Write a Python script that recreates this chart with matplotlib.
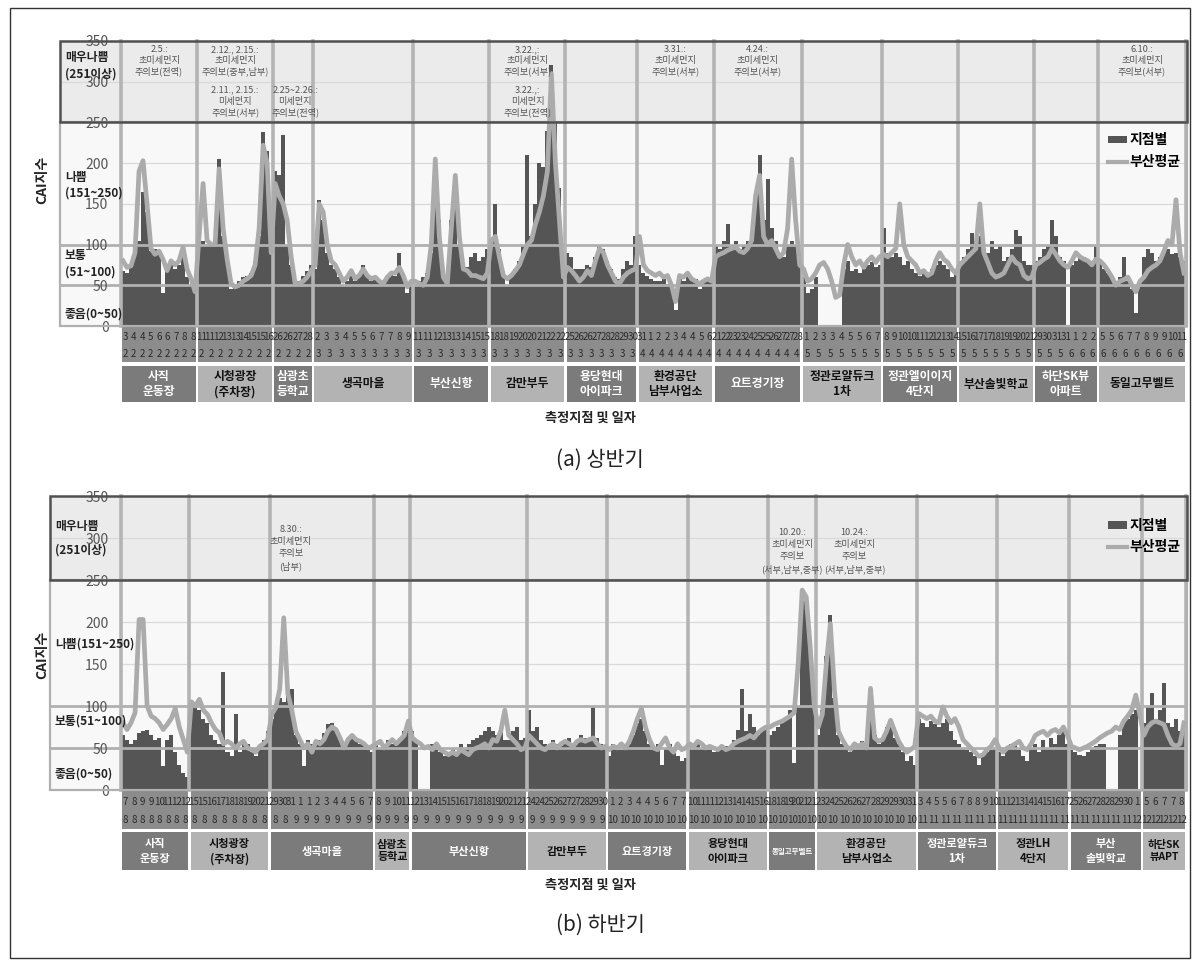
import numpy as np
import matplotlib.pyplot as plt
from matplotlib.patches import Rectangle, Patch
from matplotlib.lines import Line2D

plt.rcParams['font.family'] = ['Noto Sans CJK KR', 'DejaVu Sans']

W, H = 1200, 967
DARK = '#555555'
AVG = '#ababab'
SEP = '#b4b4b4'
NUM = ['Liberation Sans Narrow', 'Noto Sans CJK KR', 'DejaVu Sans']

# ---------------- (a) 상반기 ----------------
a_names = ['사직\n운동장', '시청광장\n(주차장)', '삼광초\n등학교', '생곡마을', '부산신항', '감만부두',
           '용당현대\n아이파크', '환경공단\n남부사업소', '요트경기장', '정관로얄듀크\n1차',
           '정관엘이이지\n4단지', '부산솔빛학교', '하단SK뷰\n아파트', '동일고무벨트']
a_day = [['3', '4', '4', '5', '6', '6', '7', '8', '8'],
         ['11', '11', '12', '13', '13', '14', '15', '15', '16'],
         ['26', '26', '27', '28'],
         ['2', '3', '3', '4', '5', '5', '6', '7', '7', '8', '9'],
         ['11', '11', '12', '13', '13', '14', '15', '15'],
         ['18', '18', '19', '20', '20', '21', '22', '22'],
         ['25', '26', '26', '27', '28', '28', '29', '30'],
         ['31', '1', '2', '2', '3', '4', '4', '5', '6'],
         ['21', '22', '23', '23', '24', '25', '25', '26', '27', '27', '28'],
         ['1', '2', '3', '3', '4', '5', '5', '6', '7'],
         ['8', '9', '10', '10', '11', '12', '12', '13', '14'],
         ['15', '16', '17', '17', '18', '19', '19', '20', '21'],
         ['29', '30', '31', '31', '1', '2', '2'],
         ['5', '5', '6', '7', '7', '8', '9', '9', '10', '11']]
a_month = [['2'] * 9, ['2'] * 8, ['2'] * 4, ['3'] * 9, ['3'] * 7, ['3'] * 7, ['3'] * 7,
           ['4'] * 8, ['4'] * 9, ['5'] * 7, ['5'] * 7, ['5'] * 7,
           ['5', '5', '5', '6', '6', '6'], ['6'] * 8]
# 지점별 CAI
a_bar = [[68, 65, 72, 95, 105, 165, 140, 92, 95, 88, 40, 72, 75, 70, 75, 92, 60, 50, 40],
         [100, 105, 100, 100, 100, 205, 110, 80, 45, 48, 55, 60, 62, 65, 80, 110, 238, 215, 100],
         [190, 185, 235, 100, 75, 50, 55, 62, 68, 75],
         [70, 155, 130, 90, 75, 70, 60, 50, 55, 62, 55, 60, 75, 62, 55, 58, 55, 52, 62, 65, 62, 90, 60, 40, 50],
         [50, 55, 60, 65, 90, 200, 130, 60, 60, 130, 180, 100, 75, 72, 85, 90, 80, 85, 95],
         [100, 150, 95, 65, 50, 60, 70, 80, 100, 210, 110, 150, 200, 195, 240, 320, 250, 170, 80],
         [90, 85, 70, 70, 70, 75, 72, 85, 100, 95, 80, 70, 60, 58, 70, 80, 75, 110],
         [75, 65, 62, 58, 55, 55, 58, 52, 45, 20, 60, 55, 62, 55, 58, 45, 55, 55, 55],
         [100, 95, 105, 125, 100, 105, 95, 100, 105, 110, 160, 210, 130, 180, 120, 105, 90, 85, 100, 105, 100, 80],
         [60, 40, 45, 60, 0, 0, 0, 0, 0, 0, 70, 80, 68, 70, 65, 70, 75, 78, 72, 75],
         [120, 90, 85, 90, 85, 75, 80, 70, 65, 62, 68, 60, 70, 75, 80, 75, 70, 60, 65],
         [80, 85, 95, 114, 105, 110, 95, 90, 105, 95, 100, 80, 85, 95, 118, 110, 80, 75, 75],
         [80, 85, 95, 100, 130, 110, 85, 80, 0, 75, 80, 85, 85, 80, 75, 100],
         [80, 70, 65, 60, 55, 60, 85, 55, 45, 16, 55, 85, 95, 90, 80, 85, 90, 95, 88, 90, 85, 80]]
# 부산평균 CAI
a_line = [[80, 72, 74, 90, 190, 203, 150, 95, 88, 92, 82, 68, 80, 75, 80, 97, 70, 58, 42],
          [110, 175, 105, 100, 100, 193, 120, 82, 52, 48, 50, 55, 58, 62, 75, 120, 222, 200, 90],
          [175, 160, 150, 130, 85, 52, 52, 55, 60, 68],
          [75, 150, 140, 100, 80, 75, 65, 55, 60, 68, 58, 62, 70, 62, 58, 60, 55, 52, 60, 65, 65, 72, 62, 48, 55],
          [55, 52, 50, 60, 100, 205, 110, 60, 52, 120, 185, 110, 70, 68, 62, 62, 60, 58, 65],
          [105, 110, 85, 62, 58, 62, 68, 75, 88, 100, 105, 125, 140, 160, 190, 310, 200, 130, 60],
          [72, 68, 62, 55, 60, 68, 62, 80, 95, 90, 75, 65, 55, 52, 60, 65, 68, 70],
          [110, 75, 68, 65, 62, 65, 60, 62, 50, 30, 62, 60, 65, 58, 55, 52, 55, 58, 55],
          [85, 88, 90, 93, 95, 97, 92, 90, 95, 105, 160, 185, 110, 100, 105, 95, 85, 90, 120, 205, 130, 75],
          [70, 55, 58, 65, 75, 78, 70, 55, 35, 38, 75, 100, 85, 75, 80, 72, 80, 85, 78, 85],
          [88, 85, 90, 95, 150, 100, 85, 80, 75, 65, 68, 62, 65, 80, 90, 82, 78, 70, 65],
          [75, 80, 85, 90, 95, 150, 90, 78, 65, 60, 62, 65, 75, 85, 78, 75, 62, 58, 60],
          [75, 78, 82, 85, 95, 88, 80, 75, 72, 80, 90, 85, 82, 80, 75, 82],
          [80, 75, 68, 60, 50, 55, 57, 60, 50, 42, 55, 60, 68, 72, 75, 80, 92, 105, 100, 155, 90, 65]]
a_notes = [(0, 0.5, 345, '2.5.:\n초미세먼지\n주의보(전역)'),
           (1, 0.5, 345, '2.12., 2.15.:\n초미세먼지\n주의보(중부,남부)'),
           (1, 0.5, 295, '2.11., 2.15.:\n미세먼지\n주의보(서부)'),
           (2, 0.55, 295, '2.25~2.26.:\n미세먼지\n주의보(전역)'),
           (5, 0.5, 345, '3.22.,:\n초미세먼지\n주의보(서부)'),
           (5, 0.5, 295, '3.22.,:\n미세먼지\n주의보(전역)'),
           (7, 0.5, 345, '3.31.:\n초미세먼지\n주의보(서부)'),
           (8, 0.5, 345, '4.24.:\n초미세먼지\n주의보(서부)'),
           (13, 0.5, 345, '6.10.:\n초미세먼지\n주의보(서부)')]

# ---------------- (b) 하반기 ----------------
b_names = ['사직\n운동장', '시청광장\n(주차장)', '생곡마을', '삼광초\n등학교', '부산신항', '감만부두',
           '요트경기장', '용당현대\n아이파크', '동일고무벨트', '환경공단\n남부사업소', '정관로얄듀크\n1차',
           '정관LH\n4단지', '부산\n솔빛학교', '하단SK\n뷰APT']
b_day = [['7', '8', '9', '9', '10', '11', '12', '12'],
         ['15', '15', '16', '17', '18', '18', '19', '20', '21'],
         ['29', '30', '31', '1', '1', '2', '3', '4', '4', '5', '6', '7'],
         ['8', '9', '10', '11'],
         ['12', '13', '14', '15', '15', '16', '17', '18', '18', '19', '20', '21', '21'],
         ['24', '24', '25', '26', '27', '27', '28', '29', '30'],
         ['1', '2', '3', '4', '4', '5', '6', '7', '7'],
         ['10', '11', '11', '12', '13', '14', '14', '15', '16'],
         ['18', '18', '19', '20', '21', '21'],
         ['23', '24', '25', '26', '26', '27', '28', '29', '29', '30', '31'],
         ['3', '4', '5', '5', '6', '7', '8', '8', '9', '10'],
         ['11', '12', '13', '14', '14', '15', '16', '17'],
         ['25', '26', '27', '28', '28', '29', '30', '1'],
         ['5', '6', '7', '7', '8']]
b_month = [['8'] * 8, ['8'] * 8, ['8', '8', '9', '9', '9', '9', '9', '9', '9', '9'], ['9'] * 4,
           ['9'] * 11, ['9'] * 8, ['10'] * 7, ['10'] * 7, ['10'] * 5, ['10'] * 9,
           ['11'] * 7, ['11'] * 7, ['11', '11', '11', '11', '11', '11', '12'], ['12'] * 5]
b_bar = [[65, 60, 55, 60, 68, 70, 72, 65, 60, 62, 28, 60, 65, 45, 30, 20, 15],
         [95, 100, 95, 85, 80, 65, 60, 55, 140, 45, 40, 90, 45, 55, 55, 45, 40, 50, 60, 70],
         [85, 100, 110, 105, 115, 120, 65, 55, 28, 60, 55, 55, 60, 68, 78, 80, 70, 60, 55, 62, 62, 58, 55, 55, 48, 45],
         [55, 50, 55, 60, 55, 55, 62, 70, 75],
         [70, 60, 0, 0, 0, 55, 50, 45, 40, 45, 50, 45, 55, 50, 55, 60, 62, 65, 70, 75, 70, 65, 72, 60, 60, 70, 75, 60, 62],
         [95, 70, 75, 60, 55, 50, 60, 55, 52, 55, 62, 55, 60, 65, 62, 60, 100, 62, 55, 50],
         [40, 55, 50, 48, 52, 55, 65, 80, 85, 70, 55, 50, 55, 30, 50, 55, 50, 40, 35, 38],
         [55, 52, 55, 50, 48, 50, 45, 48, 50, 52, 50, 60, 72, 120, 70, 90, 75, 65, 70, 75],
         [65, 70, 75, 80, 85, 95, 32, 100, 230, 225, 180, 105],
         [65, 95, 160, 208, 110, 65, 55, 50, 45, 50, 55, 58, 55, 85, 65, 55, 62, 75, 78, 62, 55, 45, 35, 40, 30],
         [85, 80, 75, 82, 78, 75, 80, 85, 70, 60, 55, 50, 48, 45, 40, 30, 42, 45, 48, 50],
         [45, 40, 50, 55, 55, 48, 40, 35, 50, 55, 45, 60, 50, 62, 55, 65, 70, 55],
         [48, 45, 42, 40, 45, 50, 52, 55, 55, 0, 0, 0, 65, 85, 85, 90, 95, 0],
         [80, 100, 115, 85, 95, 127, 80, 75, 85, 70, 80]]
b_line = [[80, 72, 80, 92, 203, 203, 100, 88, 85, 80, 72, 78, 85, 97, 75, 60, 45],
          [105, 100, 108, 95, 90, 80, 72, 68, 55, 58, 55, 50, 55, 58, 50, 48, 45, 52, 55, 60],
          [90, 98, 120, 205, 115, 95, 70, 60, 50, 55, 45, 58, 55, 60, 70, 75, 72, 62, 50, 60, 65, 60, 58, 55, 50, 52],
          [55, 58, 50, 55, 60, 55, 60, 65, 82],
          [62, 58, 55, 50, 52, 48, 55, 48, 45, 42, 45, 42, 48, 45, 42, 48, 50, 52, 55, 50, 60, 58, 70, 95, 65, 60, 55, 48, 50],
          [65, 60, 55, 50, 48, 52, 55, 50, 55, 58, 55, 52, 58, 60, 58, 60, 62, 55, 50, 52],
          [48, 52, 50, 55, 50, 58, 70, 85, 97, 75, 60, 50, 48, 55, 62, 50, 45, 55, 48, 50],
          [55, 52, 58, 55, 50, 52, 50, 48, 52, 48, 50, 55, 58, 60, 62, 65, 62, 68, 72, 75],
          [75, 78, 80, 82, 85, 88, 92, 150, 238, 230, 170, 100],
          [75, 90, 150, 198, 120, 70, 60, 52, 48, 55, 52, 55, 50, 121, 62, 58, 60, 70, 83, 70, 58, 50, 45, 48, 52],
          [91, 88, 85, 88, 82, 80, 99, 88, 80, 85, 75, 60, 55, 50, 45, 40, 42, 48, 52, 60],
          [50, 45, 50, 52, 55, 58, 50, 48, 55, 65, 68, 70, 65, 70, 72, 68, 75, 65],
          [52, 50, 48, 50, 52, 55, 58, 62, 65, 68, 70, 75, 72, 82, 88, 95, 113, 90],
          [65, 75, 80, 82, 80, 78, 65, 55, 52, 55, 80]]
b_notes = [(2, 0.2, 316, '8.30.:\n초미세먼지\n주의보\n(남부)'),
           (8, 0.5, 312, '10.20.:\n초미세먼지\n주의보\n(서부,남부,중부)'),
           (9, 0.38, 312, '10.24.:\n초미세먼지\n주의보\n(서부,남부,중부)')]

zone_a = [(330, '매우나쁨'), (309, '(251이상)'), (182, '나쁨'), (163, '(151~250)'),
          (86, '보통'), (66, '(51~100)'), (15, '좋음(0~50)')]
zone_b = [(314, '매우나쁨'), (286, '(251이상)'), (174, '나쁨(151~250)'),
          (82, '보통(51~100)'), (19, '좋음(0~50)')]


def rect(l, t, r, b):
    return [l / W, 1 - b / H, (r - l) / W, (b - t) / H]


def frame(fig, l, t, r, b, ec, lw):
    fig.add_artist(Rectangle((l / W, 1 - b / H), (r - l) / W, (b - t) / H,
                             transform=fig.transFigure, fill=False, ec=ec, lw=lw, zorder=20))


def panel(fig, names, day, month, bars, line, notes, zones, lay):
    top, bot = lay['top'], lay['bot']
    left, right = 121, 1186
    lens = [len(v) for v in bars]
    bounds = np.concatenate([[0], np.cumsum(lens)])
    n = bounds[-1]
    x = np.arange(n) + 0.5
    yb = np.concatenate(bars)
    yl = np.concatenate(line)
    px = lambda v: bot - v * (bot - top) / 350

    # 등급 라벨 박스
    lab = fig.add_axes(rect(lay['box'], top, left, bot))
    lab.set_zorder(1)
    lab.set_xlim(0, 1)
    lab.set_ylim(0, 350)
    lab.axhspan(250, 350, color='#ebebeb', zorder=0)
    lab.axhspan(0, 250, color='#f8f8f8', zorder=0)
    lab.axhline(300, color='#dadada', lw=0.9)
    for v in (50, 100):
        lab.axhline(v, color='#b0b0b0', lw=2)
    lab.axis('off')
    for yv, txt in zones:
        fig.text((lay['box'] + 5) / W, 1 - px(yv) / H, txt, ha='left', va='center',
                 fontsize=lay['zone'], fontweight='bold', color='#222222', family=NUM, zorder=15)

    ax = fig.add_axes(rect(left, top, right, bot))
    ax.set_zorder(2)
    ax.set_xlim(0, n)
    ax.set_ylim(0, 350)
    ax.axhspan(250, 350, color='#ebebeb', zorder=0)
    ax.axhspan(0, 250, color='#f8f8f8', zorder=0)
    for v in (150, 200, 300):
        ax.axhline(v, color='#dadada', lw=0.9, zorder=1)
    ax.bar(x, yb, width=1.0, color=DARK, linewidth=0, zorder=2)
    for v in (50, 100):
        ax.axhline(v, color='#b0b0b0', lw=2, zorder=3)
    for bnd in bounds:
        ax.axvline(bnd, color=SEP, lw=2.6, zorder=3, clip_on=False)
    ax.plot(x, yl, color=AVG, lw=3.4, zorder=4, solid_joinstyle='round')
    ax.set_xticks([])
    ax.set_yticks(range(0, 351, 50))
    ax.tick_params(axis='y', length=0, pad=9, labelsize=10, labelcolor='#555555')
    for t in ax.get_yticklabels():
        t.set_fontfamily(NUM)
    for s in ax.spines.values():
        s.set_visible(False)

    for si, frac, yv, txt in notes:
        xs = bounds[si] + frac * lens[si]
        ax.text(xs, yv, txt, ha='center', va='top', fontsize=6.6, color='#555555',
                linespacing=lay['nls'], zorder=6)

    leg = ax.legend(handles=[Patch(fc=DARK, ec='none'), Line2D([], [], color=AVG, lw=3)],
                    labels=['지점별', '부산평균'], loc='upper left', bbox_to_anchor=lay['leg'],
                    frameon=False, handlelength=1.4, handleheight=0.45, handletextpad=0.15,
                    labelspacing=0.55, prop={'size': 10, 'weight': 'bold'})
    leg.set_zorder(7)

    frame(fig, lay['box'], px(250), right + 1, px(0), '#b0b0b0', 1.6)
    frame(fig, lay['box'], px(350), right + 1, px(250), '#505050', 1.8)

    # 일자 눈금
    tk = fig.add_axes(rect(left, lay['tk'][0], right, lay['tk'][1]))
    tk.set_xlim(0, n)
    tk.set_ylim(0, 1)
    tk.axis('off')
    for i in range(len(names)):
        s, e = bounds[i], bounds[i + 1]
        tk.add_patch(Rectangle((s + 0.3, 0), e - s - 0.6, 1, color='#8c8c8c', lw=0))
        for row, yv in ((day[i], 0.72), (month[i], 0.24)):
            for k, t in enumerate(row):
                tk.text(s + (k + 0.5) * (e - s) / len(row), yv, t, ha='center', va='center',
                        fontsize=7, color='#2a2a2a', family=NUM)

    # 측정지점 박스
    bx = fig.add_axes(rect(left, lay['bx'][0], right, lay['bx'][1]))
    bx.set_xlim(0, n)
    bx.set_ylim(0, 1)
    bx.axis('off')
    unit = (right - left) / n
    for i, name in enumerate(names):
        s, e = bounds[i], bounds[i + 1]
        dark = i % 2 == 0
        bx.add_patch(Rectangle((s + 0.3, 0), e - s - 0.6, 1, color='#7b7b7b' if dark else '#b3b3b3', lw=0))
        longest = max(len(p) for p in name.split('\n'))
        fs = min(lay['name'], ((e - s) * unit - 3) / (longest * 1.39))
        bx.text((s + e) / 2, 0.5, name, ha='center', va='center', fontsize=fs, fontweight='bold',
                color='white' if dark else '#111111', linespacing=1.25)

    fig.text(42 / W, 1 - lay['ylab'] / H, 'CAI지수', rotation=90, ha='center', va='center',
             fontsize=10, fontweight='bold', color='#222222')
    fig.text(590 / W, 1 - lay['xlab'] / H, '측정지점 및 일자', ha='center', va='center',
             fontsize=9.5, fontweight='bold', color='#222222')
    fig.text(600 / W, 1 - lay['cap'] / H, lay['title'], ha='center', va='center',
             fontsize=15, color='#222222')


fig = plt.figure(figsize=(W / 100, H / 100), dpi=100)
fig.patch.set_facecolor('white')

panel(fig, a_names, a_day, a_month, a_bar, a_line, a_notes, zone_a,
      dict(top=41, bot=326, box=60, tk=(327, 362), bx=(366, 402), xlab=418, cap=460,
           ylab=180, title='(a) 상반기', leg=(0.915, 0.72), nls=1.25, zone=8.5, name=8.5))
panel(fig, b_names, b_day, b_month, b_bar, b_line, b_notes, zone_b,
      dict(top=496, bot=790, box=50, tk=(791, 829), bx=(832, 870), xlab=885, cap=925,
           ylab=655, title='(b) 하반기', leg=(0.915, 0.965), nls=1.45, zone=8.5, name=8))

frame(fig, 10, 8, 1190, 958, '#333333', 1.0)

fig.savefig('out.png', dpi=100)
